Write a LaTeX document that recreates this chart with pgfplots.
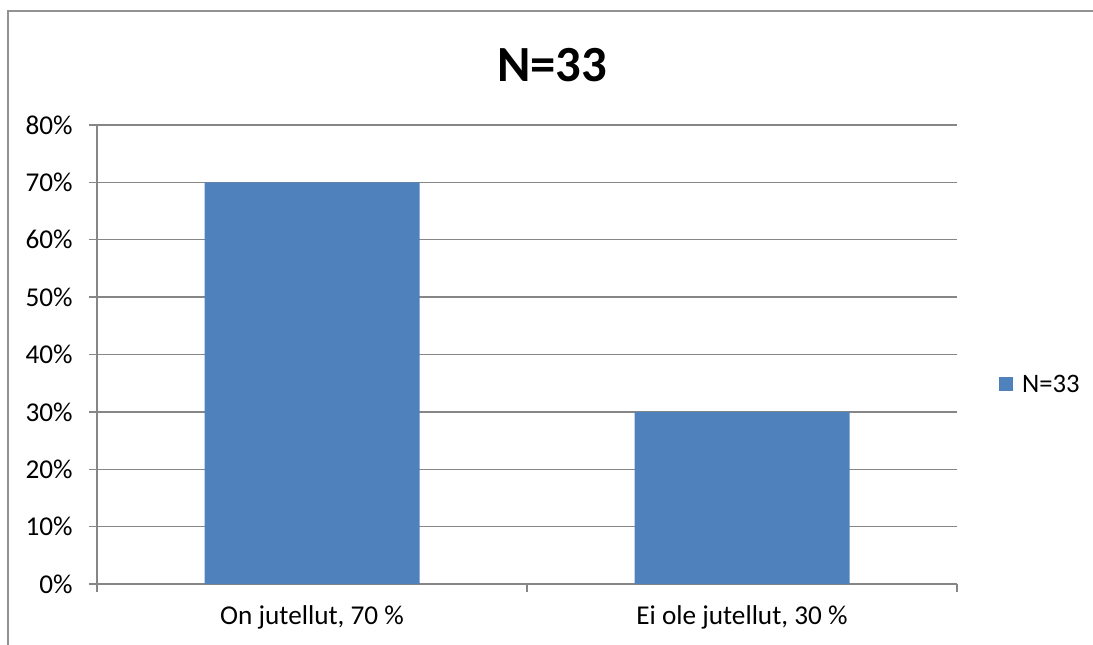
\documentclass[border=0pt]{standalone}
\usepackage{pgfplots}
\pgfplotsset{compat=1.18}
\usepackage{fontspec}
\setmainfont{Carlito}
\definecolor{barblue}{HTML}{4F81BD}
\definecolor{gridgray}{HTML}{868686}
\begin{document}
\begin{tikzpicture}[x=0.375pt,y=0.375pt]
\useasboundingbox (0,0) rectangle (1093,644);
\draw[gridgray!90, line width=0.7pt] (8,-2) -- (8,633) -- (1095,633);
\node[font=\fontsize{19}{22}\selectfont\bfseries] at (552,579) {N=33};
\begin{axis}[
  at={(36.375pt,22.5pt)}, anchor=south west,
  scale only axis, width=322.5pt, height=172.125pt,
  xmin=-0.5, xmax=1.5, ymin=0, ymax=80,
  axis x line*=bottom, axis y line*=left,
  axis line style={gridgray, line width=0.5pt},
  every tick/.style={gridgray, line width=0.5pt},
  tick align=outside,
  major tick length=3pt,
  ytick={0,10,...,80},
  yticklabels={0\%,10\%,20\%,30\%,40\%,50\%,60\%,70\%,80\%},
  ymajorgrids,
  grid style={gridgray, line width=0.5pt},
  xtick={-0.5,0.5,1.5},
  xticklabels={},
  extra x ticks={0,1},
  extra x tick labels={{On jutellut, 70 \%},{Ei ole jutellut, 30 \%}},
  extra x tick style={major tick length=0pt, grid=none, xticklabel style={yshift=-4.5pt}},
  tick label style={font=\fontsize{10.2}{12}\selectfont, black},
  yticklabel style={xshift=-2.6pt},
  legend style={draw=none, fill=none, at={(1.049,0.436)}, anchor=west,
    inner sep=0pt, outer sep=0pt, font=\fontsize{10}{12}\selectfont,
    /tikz/every node/.style={inner sep=0pt, outer sep=0pt}},
  legend image code/.code={\fill[barblue] (0pt,-2.6pt) rectangle (5.25pt,2.65pt);},
  legend cell align=left,
]
\addplot[ybar, bar width=80.625pt, bar shift=0pt, fill=barblue, draw=none]
  coordinates {(0,70) (1,30)};
\addlegendentry{\hspace{3.4pt}N=33}
\end{axis}
\end{tikzpicture}
\end{document}
